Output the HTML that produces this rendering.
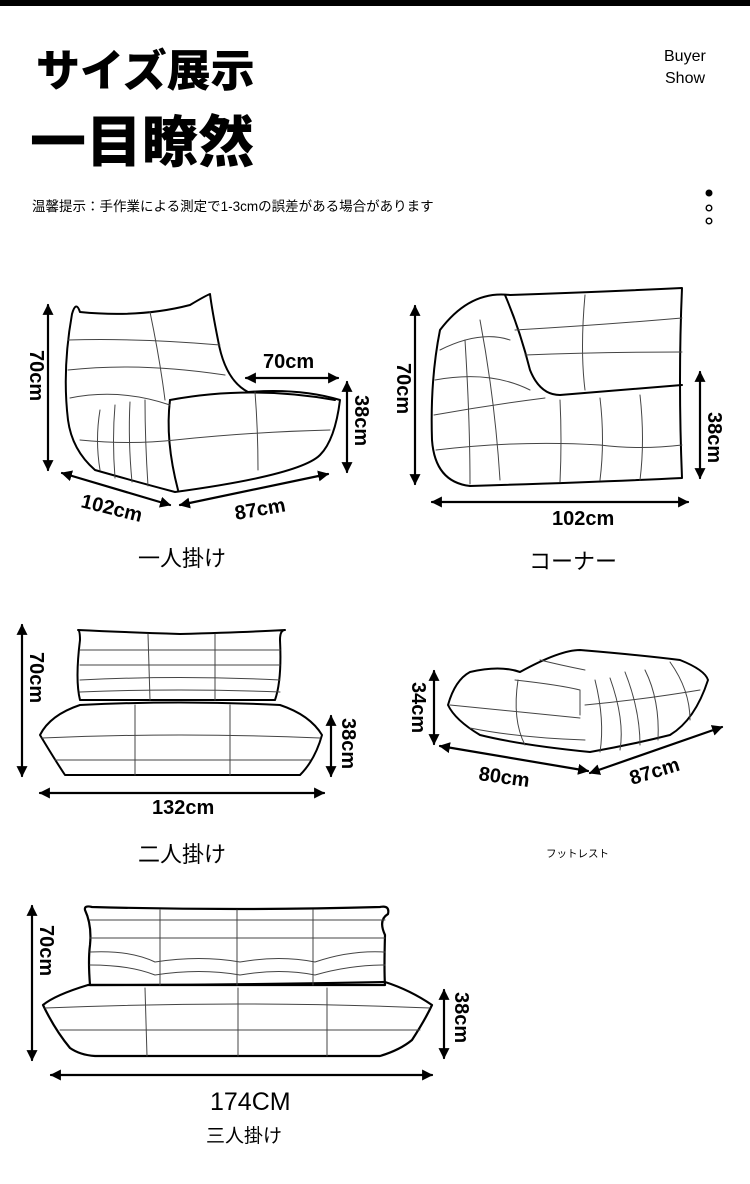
<!DOCTYPE html>
<html><head><meta charset="utf-8"><style>
html,body{margin:0;padding:0;background:#fff;}
svg{display:block}
text{font-family:"Liberation Sans","Noto Sans CJK JP",sans-serif;}
</style></head><body>
<svg width="750" height="1184" viewBox="0 0 750 1184" xmlns="http://www.w3.org/2000/svg">
<defs>
<marker id="a" viewBox="0 0 10 10" refX="9" refY="5" markerWidth="5" markerHeight="5" orient="auto-start-reverse"><path d="M0,0 L10,5 L0,10 z" fill="#000"/></marker>
</defs>
<rect x="0" y="0" width="750" height="6" fill="#000"/>
<text x="36" y="86" font-size="44" font-weight="900" font-family="Noto Sans CJK JP,sans-serif">サイズ展示</text>
<text x="30" y="162" font-size="56" font-weight="900" font-family="Noto Sans CJK JP,sans-serif">一目瞭然</text>
<text x="664" y="61" font-size="16">Buyer</text>
<text x="665" y="83" font-size="16">Show</text>
<text x="32" y="211" font-size="13.5" font-family="Noto Sans CJK JP,sans-serif">温馨提示：手作業による測定で1-3cmの誤差がある場合があります</text>
<circle cx="709" cy="193" r="3.5" fill="#000"/>
<circle cx="709" cy="208" r="2.8" fill="none" stroke="#000" stroke-width="1.4"/>
<circle cx="709" cy="221" r="2.8" fill="none" stroke="#000" stroke-width="1.4"/>

<g fill="none" stroke="#000" stroke-linejoin="round" stroke-linecap="round">
<!-- single chair -->
<g stroke-width="2">
<path d="M72,314 Q76,300 80,312 Q140,318 190,305 Q205,296 210,294 Q212,310 218,340 Q225,380 248,392 Q300,388 340,400 Q335,440 320,455 Q300,475 175,492 Q130,480 95,470 Q72,450 68,420 Q62,370 72,314 Z"/>
<path d="M170,400 Q165,440 178,490" /><path d="M170,400 Q250,385 335,400"/>
</g>
<g stroke-width="1" stroke="#444">
<path d="M68,340 Q140,338 220,345"/><path d="M68,370 Q140,362 225,375"/><path d="M70,398 Q120,388 170,405"/>
<path d="M150,312 Q160,360 165,400"/><path d="M175,440 Q250,432 330,430"/>
<path d="M80,440 Q130,445 175,440"/><path d="M100,410 Q95,440 100,470"/><path d="M115,405 Q112,440 115,478"/>
<path d="M130,402 Q128,440 132,482"/><path d="M145,400 Q145,440 148,486"/><path d="M255,392 Q258,430 258,470"/>
</g>
<g stroke-width="2.2">
<line x1="48" y1="305" x2="48" y2="470" marker-start="url(#a)" marker-end="url(#a)"/>
<line x1="246" y1="378" x2="338" y2="378" marker-start="url(#a)" marker-end="url(#a)"/>
<line x1="347" y1="382" x2="347" y2="472" marker-start="url(#a)" marker-end="url(#a)"/>
<line x1="62" y1="473" x2="170" y2="505" marker-start="url(#a)" marker-end="url(#a)"/>
<line x1="180" y1="505" x2="328" y2="474" marker-start="url(#a)" marker-end="url(#a)"/>
</g>
<!-- corner -->
<g stroke-width="2">
<path d="M440,330 Q470,290 510,295 Q600,292 682,288 Q678,380 682,478 Q600,482 470,486 Q435,482 432,440 Q430,380 440,330 Z"/>
<path d="M505,295 Q520,330 530,370 Q540,395 560,395 Q620,390 682,385"/>
</g>
<g stroke-width="1" stroke="#444">
<path d="M440,350 Q480,330 510,340"/><path d="M435,380 Q490,370 530,390"/><path d="M434,415 Q490,405 545,398"/>
<path d="M436,450 Q520,440 600,445 Q640,450 682,445"/><path d="M480,320 Q495,400 500,480"/><path d="M465,340 Q470,420 470,484"/>
<path d="M515,330 Q600,325 682,318"/><path d="M525,355 Q600,352 682,352"/><path d="M585,295 Q580,350 585,390"/>
<path d="M600,398 Q605,440 600,480"/><path d="M640,395 Q645,440 640,480"/><path d="M560,400 Q562,440 560,482"/>
</g>
<g stroke-width="2.2">
<line x1="415" y1="306" x2="415" y2="484" marker-start="url(#a)" marker-end="url(#a)"/>
<line x1="700" y1="372" x2="700" y2="478" marker-start="url(#a)" marker-end="url(#a)"/>
<line x1="432" y1="502" x2="688" y2="502" marker-start="url(#a)" marker-end="url(#a)"/>
</g>
<!-- loveseat -->
<g stroke-width="2">
<path d="M78,630 Q80,630 80,640 Q75,680 80,700 L275,700 Q282,680 280,640 Q280,630 285,630 Q250,632 180,634 Q120,632 78,630 Z"/>
<path d="M80,705 Q50,715 40,735 Q55,760 65,775 L300,775 Q315,760 322,735 Q310,715 280,705 Q180,700 80,705 Z"/>
</g>
<g stroke-width="1" stroke="#444">
<path d="M80,650 L280,650"/><path d="M80,665 L280,665"/><path d="M80,680 Q180,675 280,680"/><path d="M80,692 Q180,688 280,692"/>
<path d="M148,634 L150,700"/><path d="M215,634 L215,700"/><path d="M42,738 Q180,732 320,738"/><path d="M55,760 L310,760"/>
<path d="M135,705 L135,775"/><path d="M230,705 L230,775"/>
</g>
<g stroke-width="2.2">
<line x1="22" y1="625" x2="22" y2="776" marker-start="url(#a)" marker-end="url(#a)"/>
<line x1="331" y1="716" x2="331" y2="776" marker-start="url(#a)" marker-end="url(#a)"/>
<line x1="40" y1="793" x2="324" y2="793" marker-start="url(#a)" marker-end="url(#a)"/>
</g>
<!-- ottoman -->
<g stroke-width="2">
<path d="M448,705 Q455,680 470,672 Q500,665 520,672 Q560,650 580,650 Q640,655 680,660 Q705,670 708,680 Q695,720 670,735 Q630,745 590,752 Q520,745 480,735 Q455,720 448,705 Z"/>
</g>
<g stroke-width="1" stroke="#444">
<path d="M515,680 Q560,685 580,690 L580,715"/><path d="M450,705 Q520,712 580,718"/><path d="M470,728 Q520,738 585,740"/>
<path d="M518,680 Q512,720 525,745"/><path d="M595,680 Q605,720 600,752"/><path d="M610,678 Q625,720 620,750"/>
<path d="M625,672 Q640,710 640,745"/><path d="M645,670 Q660,700 658,740"/><path d="M670,662 Q690,690 690,720"/>
<path d="M585,705 Q640,700 700,690"/><path d="M540,660 Q560,665 585,670"/>
</g>
<g stroke-width="2.2">
<line x1="434" y1="671" x2="434" y2="744" marker-start="url(#a)" marker-end="url(#a)"/>
<line x1="440" y1="746" x2="588" y2="771" marker-start="url(#a)" marker-end="url(#a)"/>
<line x1="590" y1="773" x2="722" y2="727" marker-start="url(#a)" marker-end="url(#a)"/>
</g>
<!-- three seater -->
<g stroke-width="2.2">
<path d="M85,910 Q84,905 92,907 Q240,911 380,907 Q390,905 388,914 Q378,920 385,935 Q384,970 385,985 L90,985 Q88,960 90,945 Q92,925 85,910 Z"/>
<path d="M88,985 Q55,995 43,1005 Q55,1030 70,1048 Q80,1055 95,1056 L380,1056 Q400,1050 412,1040 Q425,1020 432,1005 Q410,990 385,982 Q240,985 88,985 Z"/>
</g>
<g stroke-width="1" stroke="#444">
<path d="M90,920 L385,920"/><path d="M90,938 L385,938"/><path d="M90,952 Q130,950 155,962 M155,962 Q200,955 240,962 Q280,955 315,962 Q350,950 385,952"/>
<path d="M90,965 Q130,965 155,975 Q200,968 240,975 Q280,968 315,975 Q350,965 385,965"/>
<path d="M160,910 L160,985"/><path d="M237,910 L237,985"/><path d="M313,910 L313,985"/>
<path d="M45,1008 Q240,1000 430,1008"/><path d="M60,1030 Q240,1030 420,1030"/>
<path d="M145,988 L147,1056"/><path d="M238,988 L238,1056"/><path d="M327,988 L327,1056"/>
</g>
<g stroke-width="2.2">
<line x1="32" y1="906" x2="32" y2="1060" marker-start="url(#a)" marker-end="url(#a)"/>
<line x1="444" y1="990" x2="444" y2="1058" marker-start="url(#a)" marker-end="url(#a)"/>
<line x1="51" y1="1075" x2="432" y2="1075" marker-start="url(#a)" marker-end="url(#a)"/>
</g>
</g>

<g font-weight="bold" font-size="20" fill="#000">
<text x="30" y="350" transform="rotate(90 30 350)" text-anchor="start">70cm</text>
<text x="263" y="368">70cm</text>
<text x="355" y="395" transform="rotate(90 355 395)">38cm</text>
<text x="80" y="507" transform="rotate(14 80 507)">102cm</text>
<text x="236" y="520" transform="rotate(-10 236 520)">87cm</text>
<text x="397" y="363" transform="rotate(90 397 363)">70cm</text>
<text x="708" y="412" transform="rotate(90 708 412)">38cm</text>
<text x="552" y="525">102cm</text>
<text x="30" y="652" transform="rotate(90 30 652)">70cm</text>
<text x="342" y="718" transform="rotate(90 342 718)">38cm</text>
<text x="152" y="814">132cm</text>
<text x="412" y="682" transform="rotate(90 412 682)">34cm</text>
<text x="478" y="780" transform="rotate(8 478 780)">80cm</text>
<text x="632" y="785" transform="rotate(-17 632 785)">87cm</text>
<text x="40" y="925" transform="rotate(90 40 925)">70cm</text>
<text x="455" y="992" transform="rotate(90 455 992)">38cm</text>
</g>
<text x="210" y="1110" font-size="25" font-family="Liberation Sans Narrow,Liberation Sans,sans-serif">174CM</text>
<g font-size="22" font-family="Noto Sans CJK JP,sans-serif" fill="#000">
<text x="138" y="566">一人掛け</text>
<text x="529" y="569">コーナー</text>
<text x="138" y="862">二人掛け</text>
<text x="206" y="1142" font-size="19">三人掛け</text>
</g>
<text x="546" y="857" font-size="10.5" font-family="Noto Sans CJK JP,sans-serif">フットレスト</text>
</svg>
</body></html>
